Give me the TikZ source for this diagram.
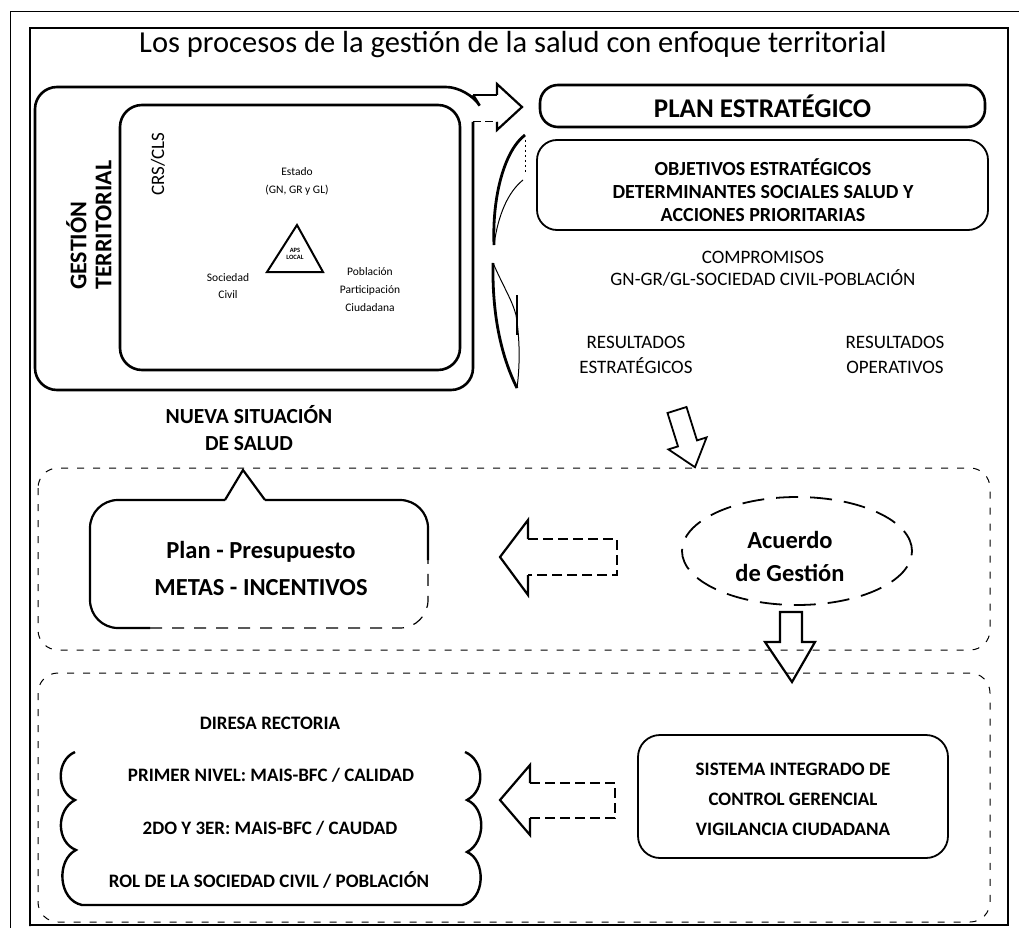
\documentclass[tikz,border=0pt]{standalone}
\usepackage{fontspec}
\setmainfont{Carlito}
\usetikzlibrary{shapes.geometric}
\begin{document}
\begin{tikzpicture}[x=1pt,y=-1pt,
  txt/.style 2 args={inner sep=0pt, align=center, font=\fontsize{#1}{#2}\selectfont},
  btxt/.style 2 args={inner sep=0pt, align=center, font=\fontsize{#1}{#2}\selectfont\bfseries},
  heavy/.style={draw, line width=2.6pt},
  medium/.style={draw, line width=1.8pt},
  faint/.style={draw, line width=1pt, dash pattern=on 7pt off 9pt},
  blockhead/.style={draw, line width=2.2pt, line join=miter},
  blockshaft/.style={draw, line width=1.4pt, dash pattern=on 10pt off 5pt}
]
\useasboundingbox (0,0) rectangle (1019,928);
% frames
\draw[line width=1pt] (10,928) -- (10,12) -- (1019,12);
\draw[line width=1.4pt] (30,926) -- (30,28) -- (1008,28) -- (1008,925) -- (30,925) -- cycle;
\draw[line width=2.6pt] (30,28) -- (1008,28);

% title
\node[txt={30.5}{32}] (title) at (513,45) {Los procesos de la gestión de la salud con enfoque territorial};

% left outer box merging into the arrow
\draw[heavy, rounded corners=22pt] (473,122) -- (473,390) -- (35,390) -- (35,87) -- (468,87) -- (473,95);
\draw[line width=1.4pt] (473,95) -- (497,95);
\draw[line width=1pt, dash pattern=on 8pt off 4pt] (473,122) -- (497,122);
\draw[blockhead] (497,95) -- (497,84) -- (522,107) -- (497,130) -- (497,122);

% inner box
\node[heavy, rounded corners=22pt, minimum width=340pt, minimum height=265pt, inner sep=0pt] (inner) at (290,237.5) {};
\node[btxt={24}{25}, rotate=90, anchor=west, align=left] (gest) at (89,290) {GESTIÓN\\TERRITORIAL};
\node[txt={19}{20}, rotate=90] (crs) at (158,164) {CRS/CLS};
\node[txt={11.5}{18}] (estado) at (297,181) {Estado\\(GN, GR y GL)};
\node[txt={11.5}{17}] (soc) at (228,286.5) {Sociedad\\Civil};
\node[txt={11.5}{18}] (pob) at (370,290) {Población\\Participación\\Ciudadana};
\draw[line width=2pt, line join=miter] (297,225) -- (267,272) -- (323,272) -- cycle;
\node[btxt={6.5}{7.5}] (aps) at (295,254) {APS\\LOCAL};

% crescent arrows
\draw[line width=2.8pt] (525,135) .. controls (505,150) and (492,195) .. (494,245);
\draw[line width=1pt] (494,245) .. controls (498,215) and (508,192) .. (523,180);
\draw[line width=0.8pt, dash pattern=on 2pt off 3pt] (525,140) -- (525,172);
\draw[line width=2.8pt] (493,263) .. controls (492,320) and (503,360) .. (517,388);
\draw[line width=1pt] (493,263) .. controls (505,290) and (512,300) .. (516,315) .. controls (520,340) and (520,365) .. (517,388);
\draw[line width=1.6pt] (517,295) -- (517,335);

% plan estrategico
\node[heavy, rounded corners=18pt, minimum width=445pt, minimum height=42pt, btxt={27}{28}] (plan) at (762.5,106) {PLAN ESTRATÉGICO};
\node[medium, rounded corners=20pt, minimum width=451pt, minimum height=90pt] (obj) at (762.5,185) {};
\node[btxt={20}{23}] (objtxt) at (763,190) {OBJETIVOS ESTRATÉGICOS\\DETERMINANTES SOCIALES SALUD Y\\ACCIONES PRIORITARIAS};
\node[txt={19}{22}] (comp) at (763,269) {COMPROMISOS\\GN-GR/GL-SOCIEDAD CIVIL-POBLACIÓN};
\node[txt={19}{25}] (res1) at (636,355) {RESULTADOS\\ESTRATÉGICOS};
\node[txt={19}{25}] (res2) at (895,355) {RESULTADOS\\OPERATIVOS};

\node[btxt={21.5}{27}] (nueva) at (249,428) {NUEVA SITUACIÓN\\DE SALUD};

% tilted down arrow
\draw[line width=1.8pt, line join=miter] (667.5,413) -- (678,446.4) -- (668.4,449.4) -- (695,467.2) -- (706.6,437.4) -- (697,440.4) -- (686.5,407) -- cycle;

% middle section
\draw[faint, rounded corners=20pt] (38,468) rectangle (990,650);
% callout
\draw[heavy, line width=2.2pt, rounded corners=28pt] (428,560) -- (428,500) -- (265,500);
\draw[heavy, line width=2.2pt] (265,500) -- (243,470) -- (225,500);
\draw[heavy, line width=2.2pt, rounded corners=28pt] (225,500) -- (90,500) -- (90,628) -- (150,628);
\draw[line width=1.2pt, dash pattern=on 12pt off 10pt, rounded corners=28pt] (150,628) -- (428,628) -- (428,560);
\node[btxt={24.5}{37}] (pp) at (261,568.5) {Plan - Presupuesto\\METAS - INCENTIVOS};

% left arrow 1
\draw[blockhead] (528,539) -- (528,520) -- (500,557) -- (528,595) -- (528,575);
\draw[blockshaft] (528,539) -- (617,539) -- (617,575) -- (528,575);

% acuerdo
\node[ellipse, draw, line width=1.8pt, dash pattern=on 22pt off 12pt, minimum width=230pt, minimum height=108pt] (acu) at (797,551) {};
\node[btxt={24.5}{33}] (acutxt) at (790,556.5) {Acuerdo\\de Gestión};

% down arrow 2
\draw[line width=2.2pt, line join=miter] (780,612) -- (780,642) -- (765,642) -- (792,682) -- (815,642) -- (802,642) -- (802,612) -- cycle;

% bottom section
\draw[faint, rounded corners=20pt] (38,673) rectangle (990,922);
\node[btxt={19}{20}] (diresa) at (270,723) {DIRESA RECTORIA};
\draw[heavy, line width=2.4pt] (75,752) .. controls (56,760) and (56,792) .. (75,800)
  .. controls (56,810) and (56,842) .. (76,850)
  .. controls (56,860) and (58,900) .. (82,905) -- (462,905)
  .. controls (486,900) and (486,860) .. (467,852)
  .. controls (486,842) and (486,808) .. (467,800)
  .. controls (486,790) and (484,760) .. (465,752);
\node[btxt={19}{20}] (n1) at (271,775) {PRIMER NIVEL: MAIS-BFC / CALIDAD};
\node[btxt={19}{20}] (n2) at (270,828) {2DO Y 3ER: MAIS-BFC / CAUDAD};
\node[btxt={19}{20}] (n3) at (269,880) {ROL DE LA SOCIEDAD CIVIL / POBLACIÓN};

% left arrow 2
\draw[blockhead] (530,783) -- (530,765) -- (500,800) -- (530,835) -- (530,818);
\draw[blockshaft] (530,783) -- (615,783) -- (615,818) -- (530,818);

% sistema
\node[medium, rounded corners=22pt, minimum width=310pt, minimum height=123pt] (sis) at (793,796.5) {};
\node[btxt={19}{30}] (sistxt) at (793,799) {SISTEMA INTEGRADO DE\\CONTROL GERENCIAL\\VIGILANCIA CIUDADANA};
\end{tikzpicture}
\end{document}
